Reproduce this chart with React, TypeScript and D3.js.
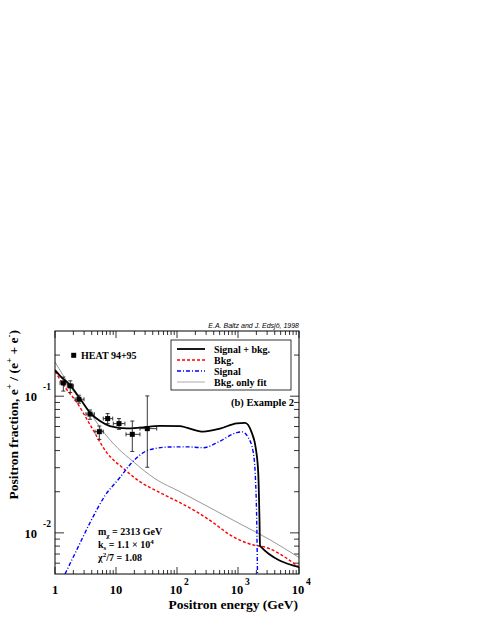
import React from 'react';
import * as d3 from 'd3';

// HEAT 94+95 data points
const heatE = [1.37, 1.78, 2.47, 3.75, 5.33, 7.3, 11.2, 18.5, 32.6];
const heatF = [0.125, 0.119, 0.095, 0.074, 0.055, 0.0686, 0.063, 0.0526, 0.0579];
const heatELo = [1.21, 1.59, 2.13, 3.22, 4.53, 6.19, 9.03, 14.6, 24.7];
const heatEHi = [1.59, 2.0, 2.99, 4.41, 6.19, 8.83, 14.0, 24.7, 46.5];
const heatFLo = [0.109, 0.1065, 0.0889, 0.0678, 0.0483, 0.063, 0.0572, 0.0394, 0.0302];
const heatFHi = [0.138, 0.1296, 0.1017, 0.0793, 0.0605, 0.0746, 0.0686, 0.0658, 0.1005];

// Signal + bkg.
const totalE = [1, 1.21, 1.76, 2.57, 3.75, 5.47, 7.97, 15.0, 24.7, 52.6, 112, 144, 270, 507, 952, 1303, 1678, 1973, 2153, 2250, 2295, 10000];
const totalF = [0.155, 0.141, 0.1205, 0.0962, 0.0759, 0.0658, 0.0605, 0.0582, 0.0589, 0.0607, 0.0605, 0.0589, 0.055, 0.0579, 0.0633, 0.0638, 0.0541, 0.0407, 0.0267, 0.01247, 0.00802, 0.00562];

// Bkg.
const bkgE = [1, 1.46, 2.27, 4.0, 7.04, 13.2, 24.7, 52.6, 112, 210, 394, 739, 1390, 1900, 2295, 10000];
const bkgF = [0.152, 0.1165, 0.0903, 0.0589, 0.0387, 0.0296, 0.0237, 0.0197, 0.01663, 0.01426, 0.01186, 0.00967, 0.00844, 0.0081, 0.00802, 0.00562];

// Signal
const sigE = [1.46, 2.27, 3.75, 6.6, 11.6, 17.0, 36.1, 76.8, 144, 270, 507, 952, 1164, 1475, 1782, 1936, 2026, 2088, 2110];
const sigF = [0.005, 0.0075, 0.01186, 0.0187, 0.0254, 0.0316, 0.0407, 0.0425, 0.0426, 0.042, 0.0469, 0.0541, 0.0548, 0.0497, 0.0386, 0.0245, 0.0125, 0.005, 0.004];

// Bkg. only fit
const fitE = [1, 1.76, 3.75, 5.47, 10.8, 19.0, 43.6, 112, 348, 1079, 3346, 10000];
const fitF = [0.178, 0.1186, 0.0762, 0.0591, 0.0415, 0.0333, 0.0249, 0.02, 0.01527, 0.01164, 0.0089, 0.0066];

const xMajor = [1, 10, 100, 1000, 10000];
const xTickBase = ['1', '10', '10', '10', '10'];
const xTickExp = ['', '', '2', '3', '4'];
const yMajor = [0.01, 0.1];
const yTickExp = ['-2', '-1'];

const legendLabels = ['Signal + bkg.', 'Bkg.', 'Signal', 'Bkg. only fit'];

const W = 479, H = 619;
const L = 55, R = 299, T = 331, B = 574;
const serif = '"Liberation Serif", "Times New Roman", serif';

const styles = [
	{ stroke: '#000', width: 1.8, dash: undefined },
	{ stroke: '#ff0000', width: 1.4, dash: '3 2' },
	{ stroke: '#0000ff', width: 1.4, dash: '4 2 1 2' },
	{ stroke: '#8c8c8c', width: 0.9, dash: undefined },
];

export default function App() {
	const x = d3.scaleLog().domain([1, 1e4]).range([L, R]);
	const y = d3.scaleLog().domain([0.005, 0.3]).range([B, T]);

	const line = d3.line<[number, number]>()
		.x(d => x(d[0]))
		.y(d => y(d[1]))
		.curve(d3.curveMonotoneX);

	const zip = (a: number[], b: number[]) => a.map((v, i) => [v, b[i]] as [number, number]);
	const series = [zip(totalE, totalF), zip(bkgE, bkgF), zip(sigE, sigF), zip(fitE, fitF)];
	const drawOrder = [3, 1, 2, 0];

	const xMinor: number[] = [];
	for (let d = 1; d < 1e4; d *= 10)
		for (let k = 2; k <= 9; k++) xMinor.push(d * k);
	const yMinor: number[] = [];
	for (let d = 0.001; d < 0.3; d *= 10)
		for (let k = 2; k <= 9; k++) {
			const v = +(d * k).toPrecision(3);
			if (v > 0.005 && v < 0.3) yMinor.push(v);
		}

	const majX = 7, minX = 4, majY = 9, minY = 5;

	return (
		<svg width={W} height={H} style={{ position: 'absolute', left: 0, top: 0, background: '#fff' }}>
			<defs>
				<clipPath id="frame">
					<rect x={L} y={T} width={R - L} height={B - T} />
				</clipPath>
			</defs>

			{/* ticks */}
			<g stroke="#000" strokeWidth={0.8}>
				{xMajor.map(v => (
					<g key={'xM' + v}>
						<line x1={x(v)} x2={x(v)} y1={B} y2={B - majX} />
						<line x1={x(v)} x2={x(v)} y1={T} y2={T + majX} />
					</g>
				))}
				{xMinor.map(v => (
					<g key={'xm' + v}>
						<line x1={x(v)} x2={x(v)} y1={B} y2={B - minX} />
						<line x1={x(v)} x2={x(v)} y1={T} y2={T + minX} />
					</g>
				))}
				{yMajor.map(v => (
					<g key={'yM' + v}>
						<line x1={L} x2={L + majY} y1={y(v)} y2={y(v)} />
						<line x1={R} x2={R - majY} y1={y(v)} y2={y(v)} />
					</g>
				))}
				{yMinor.map(v => (
					<g key={'ym' + v}>
						<line x1={L} x2={L + minY} y1={y(v)} y2={y(v)} />
						<line x1={R} x2={R - minY} y1={y(v)} y2={y(v)} />
					</g>
				))}
			</g>

			{/* curves */}
			<g clipPath="url(#frame)" fill="none">
				{drawOrder.map(i => (
					<path key={i} d={line(series[i]) || ''} stroke={styles[i].stroke}
						strokeWidth={styles[i].width} strokeDasharray={styles[i].dash} />
				))}
			</g>

			{/* HEAT data */}
			<g stroke="#222" strokeWidth={0.9}>
				{heatE.map((e, i) => {
					const cx = x(e), cy = y(heatF[i]);
					const x0 = x(heatELo[i]), x1 = x(heatEHi[i]);
					const y0 = y(heatFLo[i]), y1 = y(heatFHi[i]);
					return (
						<g key={i}>
							<line x1={x0} x2={x1} y1={cy} y2={cy} />
							<line x1={cx} x2={cx} y1={y0} y2={y1} />
							<line x1={x0} x2={x0} y1={cy - 2} y2={cy + 2} />
							<line x1={x1} x2={x1} y1={cy - 2} y2={cy + 2} />
							<line x1={cx - 2} x2={cx + 2} y1={y0} y2={y0} />
							<line x1={cx - 2} x2={cx + 2} y1={y1} y2={y1} />
							<rect x={cx - 2.5} y={cy - 2.5} width={5} height={5} fill="#000" stroke="none" />
						</g>
					);
				})}
			</g>

			{/* frame */}
			<rect x={L} y={T} width={R - L} height={B - T} fill="none" stroke="#000" strokeWidth={1} />

			{/* tick labels */}
			<g fontFamily={serif} fontWeight="bold" fontSize={12.5} fill="#000">
				{xMajor.map((v, i) => xTickExp[i] === '' ? (
					<text key={'xl' + v} x={x(v)} y={594} textAnchor="middle">{xTickBase[i]}</text>
				) : (
					<g key={'xl' + v}>
						<text x={x(v) - 1} y={594} textAnchor="middle">{xTickBase[i]}</text>
						<text x={x(v) + 7} y={585} fontSize={9.5}>{xTickExp[i]}</text>
					</g>
				))}
				{yMajor.map((v, i) => (
					<g key={'yl' + v}>
						<text x={37} y={y(v) + 5} textAnchor="end">10</text>
						<text x={43} y={y(v) - 6} fontSize={9.5}>{yTickExp[i]}</text>
					</g>
				))}
			</g>

			{/* axis titles */}
			<text x={298} y={609} textAnchor="end" fontFamily={serif} fontWeight="bold" fontSize={13.5}>
				Positron energy (GeV)
			</text>
			<text transform="translate(18,330) rotate(-90)" textAnchor="end" fontFamily={serif} fontWeight="bold" fontSize={13.5}>
				Positron fraction, e<tspan dy={-6} fontSize={9}>+</tspan><tspan dy={6}> / (e</tspan><tspan dy={-6} fontSize={9}>+</tspan><tspan dy={6}> + e</tspan><tspan dy={-6} fontSize={9}>-</tspan><tspan dy={6}>)</tspan>
			</text>

			{/* credit */}
			<text x={299} y={328} textAnchor="end" fontFamily='"Liberation Sans", Arial, sans-serif' fontStyle="italic" fontSize={7}>
				E.A. Baltz and J. Edsjö, 1998
			</text>

			{/* HEAT legend */}
			<rect x={71.2} y={352.8} width={5} height={5} fill="#000" />
			<text x={81} y={359} fontFamily={serif} fontWeight="bold" fontSize={10}>HEAT 94+95</text>

			{/* legend box */}
			<rect x={171} y={340} width={120} height={50} fill="#fff" stroke="#000" strokeWidth={0.8} />
			{legendLabels.map((lab, i) => {
				const ly = 349 + i * 11;
				return (
					<g key={lab}>
						<line x1={177} x2={205} y1={ly} y2={ly} stroke={styles[i].stroke}
							strokeWidth={i === 3 ? 1.2 : styles[i].width} strokeDasharray={styles[i].dash}
							opacity={i === 3 ? 0.6 : 1} />
						<text x={214} y={ly + 3.5} fontFamily={serif} fontWeight="bold" fontSize={10}>{lab}</text>
					</g>
				);
			})}

			<text x={231} y={406} fontFamily={serif} fontWeight="bold" fontSize={10.5}>(b) Example 2</text>

			{/* model parameters */}
			<g fontFamily={serif} fontWeight="bold" fontSize={10}>
				<text x={98} y={535}>m<tspan dy={2.5} fontSize={7}>χ</tspan><tspan dy={-2.5}> = 2313 GeV</tspan></text>
				<text x={98} y={547.5}>k<tspan dy={2.5} fontSize={7}>s</tspan><tspan dy={-2.5}> = 1.1 × 10</tspan><tspan dy={-4} fontSize={7}>4</tspan></text>
				<text x={98} y={560.5}>χ<tspan dy={-4} fontSize={7}>2</tspan><tspan dy={4}>/7 = 1.08</tspan></text>
			</g>
		</svg>
	);
}
